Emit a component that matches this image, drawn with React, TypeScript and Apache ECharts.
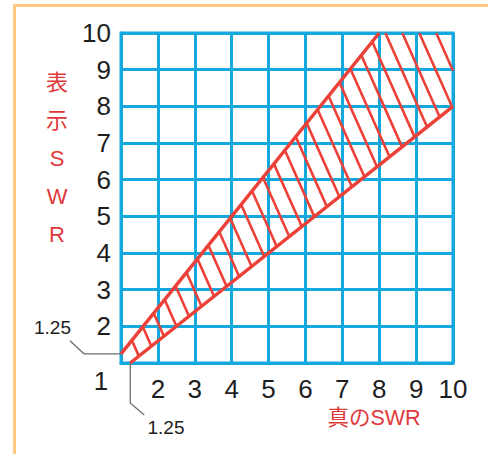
import React, { useEffect, useRef } from "react";
import * as echarts from "echarts";

// Data
const axisMin = 1;
const axisMax = 10;
const xTicks = [1, 2, 3, 4, 5, 6, 7, 8, 9, 10];
const upperLine: number[][] = [
  [1, 1.25],
  [8, 10],
];
const lowerLine: number[][] = [
  [1.25, 1],
  [10, 8],
];
const xTitle = "真のSWR";
const yTitleChars = ["表", "示", "S", "W", "R"];
const annotValue = "1.25";

const RED = "#ec4138";
const BLUE = "#14a8de";
const TEXT = "#1e1e1e";
const TITLE_RED = "#e0393c";
const FONT = "'Liberation Sans', Arial, 'Noto Sans CJK JP', sans-serif";

export default function App() {
  const ref = useRef<HTMLDivElement>(null);
  useEffect(() => {
    if (!ref.current) return;
    const chart = echarts.init(ref.current, undefined, { renderer: "svg" });

    const hatchPolygon = [
      upperLine[0],
      upperLine[1],
      [axisMax, axisMax],
      lowerLine[1],
      lowerLine[0],
    ];

    const renderHatch = (params: any, api: any) => {
      const poly = hatchPolygon.map((p) => api.coord(p));
      const dlen = Math.hypot(1, 2.25);
      const d = [1 / dlen, 2.25 / dlen];
      const n = [d[1], -d[0]];
      const proj = poly.map((v: number[]) => n[0] * v[0] + n[1] * v[1]);
      const pmax = Math.max(...proj);
      const pmin = Math.min(...proj);
      const spacing = 15.5;
      const children: any[] = [];
      for (let c = pmax - 15.3; c > pmin; c -= spacing) {
        const pts: number[][] = [];
        for (let i = 0; i < poly.length; i++) {
          const a = poly[i];
          const b = poly[(i + 1) % poly.length];
          const pa = proj[i] - c;
          const pb = proj[(i + 1) % poly.length] - c;
          if ((pa <= 0 && pb > 0) || (pa > 0 && pb <= 0)) {
            const t = pa / (pa - pb);
            pts.push([a[0] + t * (b[0] - a[0]), a[1] + t * (b[1] - a[1])]);
          }
        }
        if (pts.length >= 2) {
          const len = Math.hypot(pts[1][0] - pts[0][0], pts[1][1] - pts[0][1]);
          if (len < 3) continue;
          children.push({
            type: "line",
            shape: { x1: pts[0][0], y1: pts[0][1], x2: pts[1][0], y2: pts[1][1] },
            style: { stroke: RED, lineWidth: 2.6 },
          });
        }
      }
      return { type: "group", children };
    };

    const axisCommon = {
      type: "value" as const,
      min: axisMin,
      max: axisMax,
      interval: 1,
      axisLine: { show: true, lineStyle: { color: BLUE, width: 3 } },
      axisTick: { show: false },
      splitLine: { show: true, lineStyle: { color: BLUE, width: 3 } },
    };

    chart.setOption({
      animation: false,
      grid: {
        left: 121,
        top: 33,
        width: 332,
        height: 330,
        show: true,
        borderColor: BLUE,
        borderWidth: 3,
        containLabel: false,
      },
      xAxis: {
        ...axisCommon,
        axisLabel: {
          showMinLabel: false,
          fontSize: 26,
          color: TEXT,
          fontFamily: FONT,
          margin: 13,
          formatter: (v: number) => (xTicks.includes(v) ? String(v) : ""),
        },
      },
      yAxis: {
        ...axisCommon,
        axisLabel: {
          showMinLabel: false,
          fontSize: 26,
          color: TEXT,
          fontFamily: FONT,
          margin: 10,
        },
      },
      series: [
        {
          type: "custom",
          renderItem: renderHatch,
          data: [[axisMin, axisMin]],
          clip: false,
          silent: true,
          z: 3,
        },
        {
          type: "line",
          data: upperLine,
          symbol: "none",
          lineStyle: { color: RED, width: 3.5 },
          z: 4,
          silent: true,
        },
        {
          type: "line",
          data: lowerLine,
          symbol: "none",
          lineStyle: { color: RED, width: 3.5 },
          z: 4,
          silent: true,
        },
      ],
    });

    const pU = chart.convertToPixel({ gridIndex: 0 }, upperLine[0]) as number[];
    const pL = chart.convertToPixel({ gridIndex: 0 }, lowerLine[0]) as number[];
    const origin = chart.convertToPixel({ gridIndex: 0 }, [axisMin, axisMin]) as number[];

    chart.setOption({
      graphic: [
        {
          type: "polyline",
          shape: { points: [[14.5, 460], [14.5, 5.5], [500, 5.5]] },
          style: { stroke: "#ffc97f", lineWidth: 3, fill: "none" },
          silent: true,
        },
        {
          type: "text",
          x: 57,
          y: 63,
          style: {
            text: yTitleChars.join("\n"),
            fontSize: 22,
            lineHeight: 38,
            fill: TITLE_RED,
            fontFamily: FONT,
            align: "center",
            verticalAlign: "top",
          },
        },
        {
          type: "text",
          x: 374,
          y: 418,
          style: {
            text: xTitle,
            fontSize: 21.5,
            fill: TITLE_RED,
            fontFamily: FONT,
            align: "center",
            verticalAlign: "middle",
          },
        },
        {
          type: "text",
          x: origin[0] - 20,
          y: origin[1] + 18,
          style: {
            text: String(axisMin),
            fontSize: 26,
            fill: TEXT,
            fontFamily: FONT,
            align: "center",
            verticalAlign: "middle",
          },
        },
        {
          type: "polyline",
          shape: {
            points: [
              [70, pU[1] - 13],
              [84, pU[1]],
              [pU[0], pU[1]],
            ],
          },
          style: { stroke: "#6e6e6e", lineWidth: 1.3, fill: "none" },
          z: 10,
        },
        {
          type: "text",
          x: 52.5,
          y: pU[1] - 26,
          style: {
            text: annotValue,
            fontSize: 19,
            fill: TEXT,
            fontFamily: FONT,
            align: "center",
            verticalAlign: "middle",
          },
        },
        {
          type: "polyline",
          shape: {
            points: [
              [pL[0], pL[1]],
              [pL[0], pL[1] + 40],
              [pL[0] + 14, pL[1] + 52],
            ],
          },
          style: { stroke: "#6e6e6e", lineWidth: 1.3, fill: "none" },
          z: 10,
        },
        {
          type: "text",
          x: 166,
          y: pL[1] + 64,
          style: {
            text: annotValue,
            fontSize: 19,
            fill: TEXT,
            fontFamily: FONT,
            align: "center",
            verticalAlign: "middle",
          },
        },
      ],
    });

    return () => chart.dispose();
  }, []);

  return (
    <div
      ref={ref}
      style={{ position: "fixed", left: 0, top: 0, width: 488, height: 454, background: "#fff" }}
    />
  );
}
